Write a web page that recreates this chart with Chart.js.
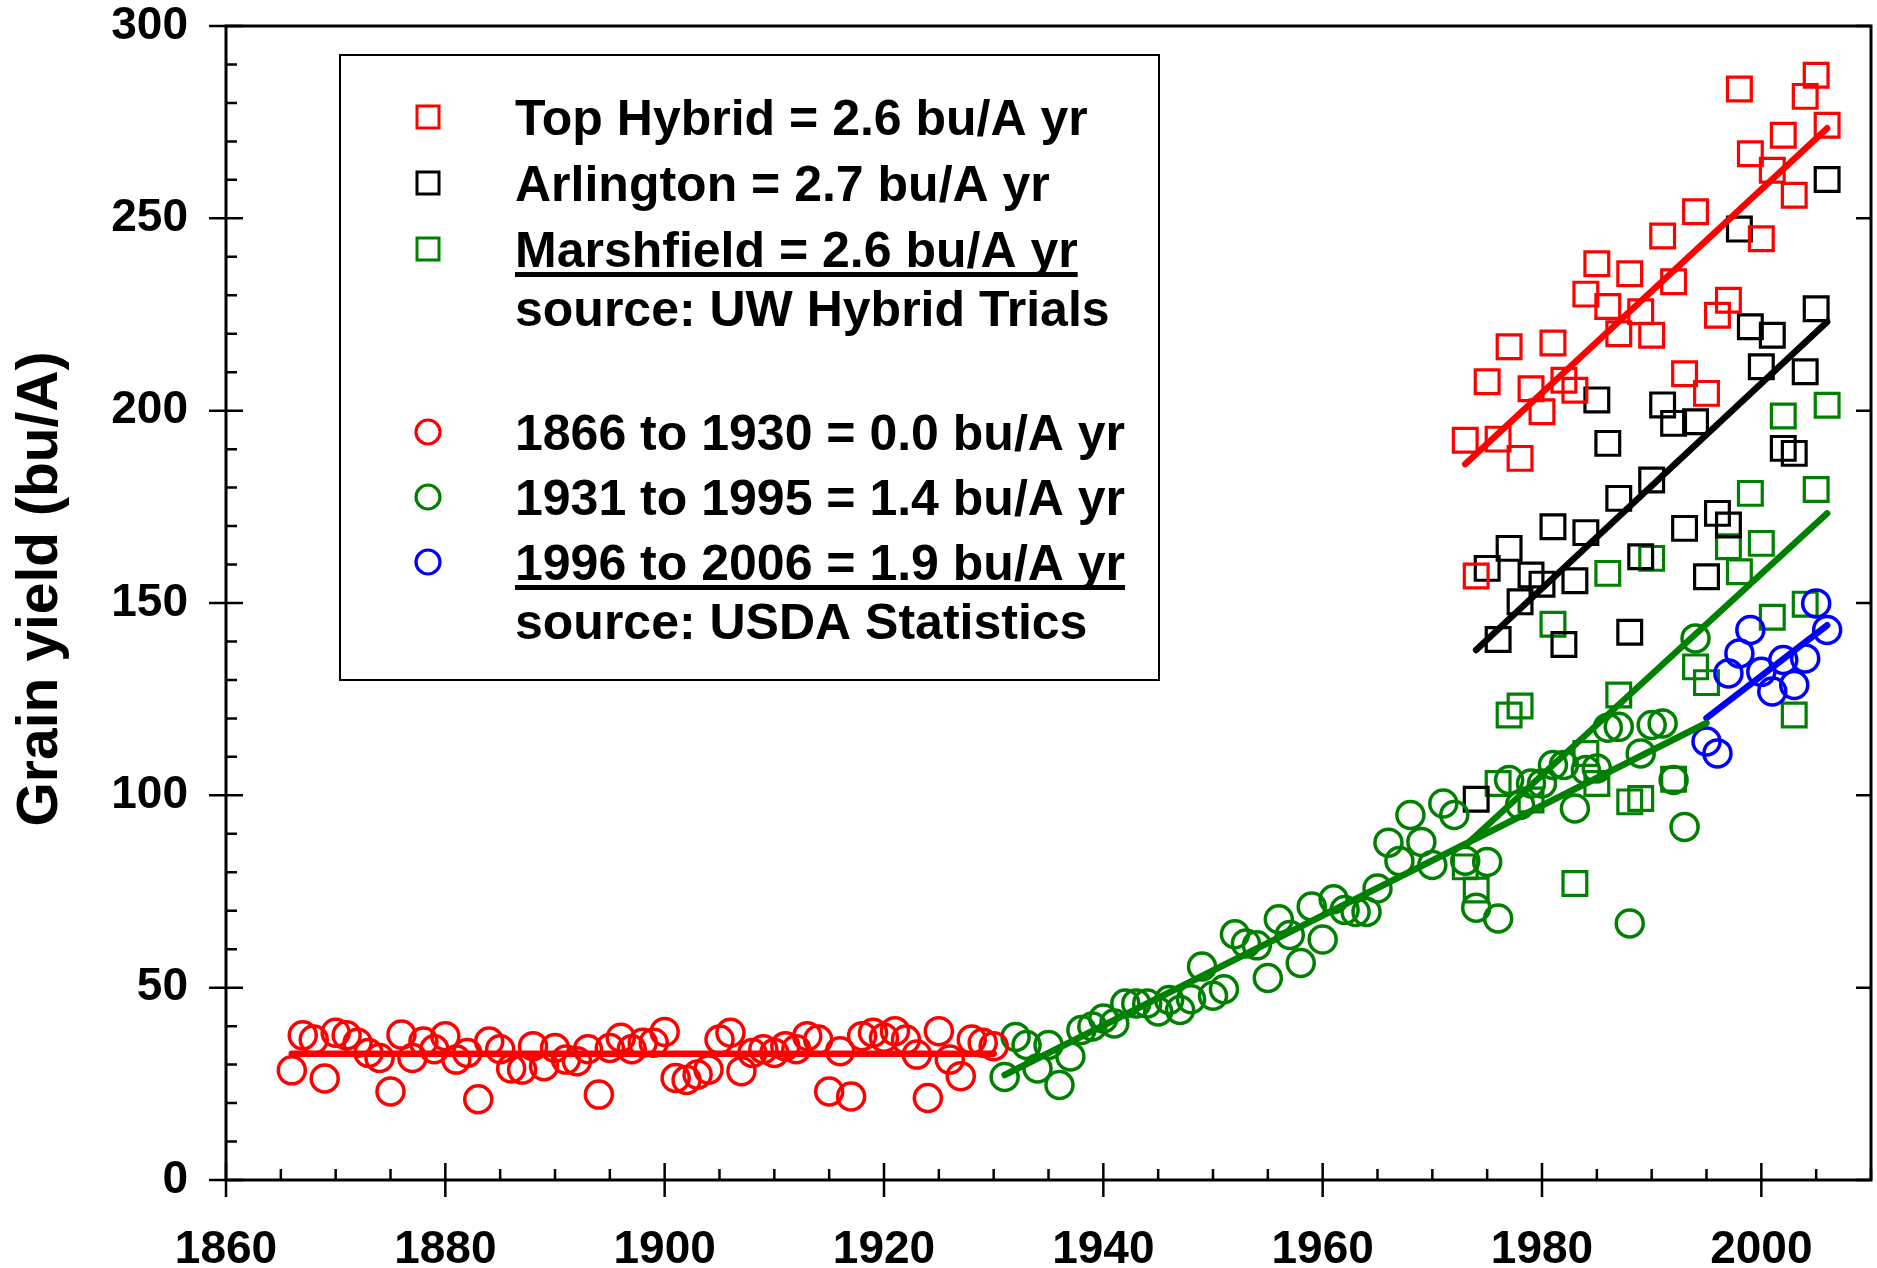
<!DOCTYPE html>
<html>
<head>
<meta charset="utf-8">
<script src="https://cdn.jsdelivr.net/npm/chart.js@4.4.1/dist/chart.umd.min.js"></script>
<style>
  html, body { margin: 0; padding: 0; background: #fff; }
  #wrap { position: relative; width: 1877px; height: 1268px; }
</style>
</head>
<body>
<div id="wrap"><canvas id="yieldChart" width="1877" height="1268"></canvas></div>
<script>
// USDA state averages (bu/A), three periods
const earlyYears = [1866, 1867, 1868, 1869, 1870, 1871, 1872, 1873, 1874, 1875, 1876, 1877, 1878, 1879, 1880,
    1881, 1882, 1883, 1884, 1885, 1886, 1887, 1888, 1889, 1890, 1891, 1892, 1893, 1894, 1895, 1896, 1897, 1898,
    1899, 1900, 1901, 1902, 1903, 1904, 1905, 1906, 1907, 1908, 1909, 1910, 1911, 1912, 1913, 1914, 1915, 1916,
    1917, 1918, 1919, 1920, 1921, 1922, 1923, 1924, 1925, 1926, 1927, 1928, 1929, 1930];
const earlyYield = [28.5, 37.6, 36.5, 26.4, 38.3, 37.6, 35.7, 33, 31.7, 23, 37.8, 31.7, 36, 34, 37.4,
    31.3, 33, 21, 36, 34, 29, 28.7, 34.8, 29.6, 34.3, 31.3, 30.9, 34, 22.2, 34.3, 37, 34, 35.7,
    35.7, 38.5, 26.5, 26, 27.4, 28.7, 36.5, 38.3, 28.3, 33, 34, 33, 34.8, 34, 37.4, 36.5, 23, 33.5,
    21.7, 37.4, 38.3, 37, 38.7, 36.5, 32.6, 21.3, 38.7, 31.3, 27, 36.5, 35.7, 34.8];

const midYears = [1931, 1932, 1933, 1934, 1935, 1936, 1937, 1938, 1939, 1940, 1941, 1942, 1943, 1944, 1945,
    1946, 1947, 1948, 1949, 1950, 1951, 1952, 1953, 1954, 1955, 1956, 1957, 1958, 1959, 1960, 1961, 1962,
    1963, 1964, 1965, 1966, 1967, 1968, 1969, 1970, 1971, 1972, 1973, 1974, 1975, 1976, 1977, 1978, 1979,
    1980, 1981, 1982, 1983, 1984, 1985, 1986, 1987, 1988, 1989, 1990, 1991, 1992, 1993, 1994];
const midYield = [26.8, 37.2, 35.1, 29, 35.1, 24.7, 32.1, 39, 39.9, 42, 40.7, 45.9, 45.9, 45.9, 43.8,
    46.8, 44.2, 47, 55.5, 47.9, 49.6, 63.9, 61.5, 61, 52.5, 67.8, 63.7, 56.4, 71.1, 62.5, 73, 70.2,
    69.7, 69.7, 75.8, 87.7, 82.9, 94.9, 87.9, 81.9, 97.9, 94.9, 83, 70.8, 82.7, 68, 104, 97.5, 103.1,
    103.1, 107.9, 107.9, 96.6, 106.6, 107, 117.6, 117.8, 66.7, 110.9, 118.3, 118.7, 104, 91.8, 140.8];

const lateYears = [1995, 1996, 1997, 1998, 1999, 2000, 2001, 2002, 2003, 2004, 2005, 2006];
const lateYield = [114, 110.9, 131.7, 136.9, 143, 132.1, 127, 135.2, 128.7, 135.6, 149.9, 143];

// UW hybrid trials (bu/A)
const topYears = [1973, 1974, 1975, 1976, 1977, 1978, 1979, 1980, 1981, 1982, 1983, 1984, 1985, 1986, 1987,
    1988, 1989, 1990, 1991, 1992, 1993, 1994, 1995, 1996, 1997, 1998, 1999, 2000, 2001, 2002, 2003, 2004,
    2005, 2006];
const topYield = [192.3, 157, 207.5, 192.6, 216.6, 187.6, 205.7, 199.7, 217.6, 207.9, 205.3, 230.3, 238.2,
    227.1, 220, 235.6, 225.7, 219.6, 245.4, 233.5, 209.6, 251.7, 204.5, 224.8, 228.7, 283.6, 266.8, 244.7,
    262.5, 271.6, 256, 281.7, 287.2, 274.2];

const arlYears = [1974, 1975, 1976, 1977, 1978, 1979, 1980, 1981, 1982, 1983, 1984, 1985, 1986, 1987, 1988,
    1989, 1990, 1991, 1992, 1993, 1994, 1995, 1996, 1997, 1998, 1999, 2000, 2001, 2002, 2003, 2004, 2005, 2006];
const arlYield = [99, 159, 140.5, 164.2, 150.3, 157.3, 154.9, 169.8, 139.2, 155.8, 168.3, 202.8, 191.5, 177.2,
    142.4, 162, 182, 201.5, 196.7, 169.4, 197.1, 156.8, 173.3, 170.3, 247.2, 221.8, 211.4, 219.6, 190.2,
    188.9, 210.1, 226.5, 260.1];

const marYears = [1973, 1974, 1976, 1977, 1978, 1979, 1981, 1983, 1984, 1985, 1986, 1987, 1988, 1989, 1990,
    1992, 1994, 1995, 1997, 1998, 1999, 2000, 2001, 2002, 2003, 2004, 2005, 2006];
const marYield = [81.4, 75.4, 103.1, 120.9, 123.2, 98.8, 144.5, 77.1, 110.9, 103.1, 157.7, 126.1, 98.3, 99.2,
    161.6, 104.2, 133.4, 129.3, 164.6, 158.1, 178.5, 165.5, 146.3, 198.6, 120.9, 149.7, 179.5, 201.4];

// fitted trend end points
const earlyTrendX = [1866, 1930], earlyTrendY = [32.8, 32.8];
const midTrendX = [1931, 1995], midTrendY = [27.3, 118.8];
const lateTrendX = [1995, 2006], lateTrendY = [120.1, 144.2];
const topTrendX = [1973, 2006], topTrendY = [186.1, 273.4];
const arlTrendX = [1974, 2006], arlTrendY = [137.8, 223.1];
const marTrendX = [1973, 2006], marTrendY = [86.9, 173.3];

const RED = '#ff0000', GREEN = '#008000', BLUE = '#0000ff', BLACK = '#000000';
const FONT = '"Liberation Sans", Arial, sans-serif';

const pts = (xs, ys) => xs.map((x, i) => ({ x: x, y: ys[i] }));

const circles = (xs, ys, color) => ({
    data: pts(xs, ys),
    pointStyle: 'circle',
    pointRadius: 13.5,
    borderColor: color,
    backgroundColor: 'rgba(0,0,0,0)',
    pointBorderWidth: 3.5,
    showLine: false,
    order: 2,
});

const squares = (xs, ys, color) => ({
    data: pts(xs, ys),
    pointStyle: 'rect',
    pointRadius: 16.8,
    borderColor: color,
    backgroundColor: 'rgba(0,0,0,0)',
    pointBorderWidth: 3.2,
    showLine: false,
    order: 3,
});

const trend = (xs, ys, color) => ({
    data: pts(xs, ys),
    showLine: true,
    pointRadius: 0,
    borderColor: color,
    borderWidth: 6.5,
    borderCapStyle: 'round',
    order: 1,
});

// frame with ticks on left, bottom and right, plus the rotated y title
const axisFrame = {
    id: 'axisFrame',
    afterDatasetsDraw(chart) {
        const { ctx, chartArea: a, scales } = chart;
        const xs = scales.x, ys = scales.y;
        ctx.save();
        ctx.strokeStyle = BLACK;
        ctx.lineCap = 'butt';
        ctx.lineWidth = 2.5;
        ctx.beginPath();
        for (let v = 1860; v <= 2010; v += 5) {
            const px = xs.getPixelForValue(v);
            if (v % 20 === 0) {
                ctx.moveTo(px, a.bottom + 17);
                ctx.lineTo(px, a.bottom - 17);
            } else {
                ctx.moveTo(px, a.bottom);
                ctx.lineTo(px, a.bottom - 11);
            }
        }
        for (let v = 0; v <= 300; v += 10) {
            const py = ys.getPixelForValue(v);
            if (v % 50 === 0) {
                ctx.moveTo(a.left - 17, py);
                ctx.lineTo(a.left + 17, py);
                ctx.moveTo(a.right, py);
                ctx.lineTo(a.right - 15, py);
            } else {
                ctx.moveTo(a.left, py);
                ctx.lineTo(a.left + 11, py);
            }
        }
        ctx.stroke();
        ctx.lineWidth = 3;
        ctx.strokeRect(a.left, a.top, a.right - a.left, a.bottom - a.top);

        ctx.translate(41, 589);
        ctx.rotate(-Math.PI / 2);
        ctx.fillStyle = BLACK;
        ctx.font = 'bold 57px ' + FONT;
        ctx.textAlign = 'center';
        ctx.textBaseline = 'middle';
        ctx.fillText('Grain yield (bu/A)', 0, 0);
        ctx.restore();
    },
};

// boxed key with regression slopes and sources
const keyRows = [
    { text: 'Top Hybrid = 2.6 bu/A yr', marker: 'rect', color: RED, base: 135 },
    { text: 'Arlington = 2.7 bu/A yr', marker: 'rect', color: BLACK, base: 201 },
    { text: 'Marshfield = 2.6 bu/A yr', marker: 'rect', color: GREEN, base: 267, underline: true },
    { text: 'source: UW Hybrid Trials', base: 326 },
    { text: '1866 to 1930 = 0.0 bu/A yr', marker: 'circle', color: RED, base: 450 },
    { text: '1931 to 1995 = 1.4 bu/A yr', marker: 'circle', color: GREEN, base: 515 },
    { text: '1996 to 2006 = 1.9 bu/A yr', marker: 'circle', color: BLUE, base: 580, underline: true },
    { text: 'source: USDA Statistics', base: 639 },
];

const keyBox = {
    id: 'keyBox',
    afterDraw(chart) {
        const ctx = chart.ctx;
        ctx.save();
        ctx.fillStyle = '#fff';
        ctx.fillRect(340, 55, 819, 625);
        ctx.strokeStyle = BLACK;
        ctx.lineWidth = 2;
        ctx.strokeRect(340, 55, 819, 625);
        ctx.font = 'bold 50px ' + FONT;
        ctx.textBaseline = 'alphabetic';
        ctx.textAlign = 'left';
        const tx = 515, mx = 428;
        keyRows.forEach((r) => {
            ctx.fillStyle = BLACK;
            ctx.fillText(r.text, tx, r.base);
            if (r.underline) {
                const w = ctx.measureText(r.text).width;
                ctx.fillRect(tx, r.base + 5, w, 5);
            }
            if (r.marker) {
                const my = r.base - 18;
                ctx.strokeStyle = r.color;
                if (r.marker === 'rect') {
                    ctx.lineWidth = 3;
                    ctx.strokeRect(mx - 11, my - 11, 22, 22);
                } else {
                    ctx.lineWidth = 3.2;
                    ctx.beginPath();
                    ctx.arc(mx, my, 12, 0, Math.PI * 2);
                    ctx.stroke();
                }
            }
        });
        ctx.restore();
    },
};

new Chart(document.getElementById('yieldChart'), {
    type: 'scatter',
    data: {
        datasets: [
            trend(earlyTrendX, earlyTrendY, RED),
            trend(midTrendX, midTrendY, GREEN),
            trend(lateTrendX, lateTrendY, BLUE),
            trend(topTrendX, topTrendY, RED),
            trend(arlTrendX, arlTrendY, BLACK),
            trend(marTrendX, marTrendY, GREEN),
            circles(earlyYears, earlyYield, RED),
            circles(midYears, midYield, GREEN),
            circles(lateYears, lateYield, BLUE),
            squares(topYears, topYield, RED),
            squares(arlYears, arlYield, BLACK),
            squares(marYears, marYield, GREEN),
        ],
    },
    options: {
        responsive: false,
        animation: false,
        events: [],
        layout: { autoPadding: false, padding: { top: 26, right: 6, left: 0, bottom: 0 } },
        plugins: { legend: { display: false }, tooltip: { enabled: false } },
        scales: {
            x: {
                type: 'linear',
                min: 1860,
                max: 2010,
                grid: { display: false, drawTicks: false },
                border: { display: false },
                ticks: {
                    stepSize: 20,
                    includeBounds: false,
                    autoSkip: false,
                    maxRotation: 0,
                    padding: 43,
                    color: BLACK,
                    font: { family: FONT, size: 46, weight: 'bold' },
                    callback: (v) => String(v),
                },
                afterFit(scale) {
                    scale.height = 88;
                    scale.paddingLeft = 0;
                    scale.paddingRight = 0;
                },
            },
            y: {
                min: 0,
                max: 300,
                grid: { display: false, drawTicks: false },
                border: { display: false },
                ticks: {
                    stepSize: 50,
                    padding: 38,
                    color: BLACK,
                    font: { family: FONT, size: 46, weight: 'bold' },
                },
                afterFit(scale) {
                    scale.width = 226;
                    scale.paddingTop = 0;
                    scale.paddingBottom = 0;
                },
            },
        },
    },
    plugins: [axisFrame, keyBox],
});
</script>
</body>
</html>
